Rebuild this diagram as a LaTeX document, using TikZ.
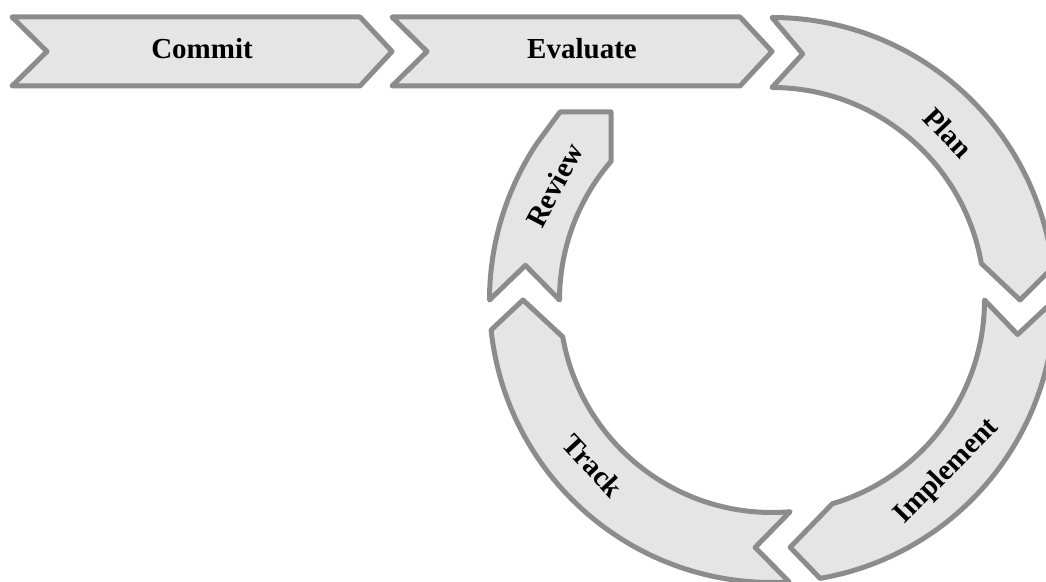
\documentclass[tikz,border=0pt]{standalone}
\usepackage{fontspec}
\setmainfont{Liberation Serif}
\definecolor{bandfill}{gray}{0.9}
\definecolor{bandline}{gray}{0.55}
\begin{document}
\begin{tikzpicture}[x=1pt,y=1pt,
	band/.style={draw=bandline, fill=bandfill, line width=5pt, line join=round},
	lbl/.style={font=\fontsize{29}{34}\selectfont\bfseries}]
	\useasboundingbox (0,0) rectangle (1046,581);

	% straight chevrons
	\draw[band] (12,564) -- (360,564) -- (392,529.5) -- (360,495) -- (12,495) -- (47,529.5) -- cycle;
	\draw[band] (392,564) -- (740,564) -- (772,529.5) -- (740,495) -- (392,495) -- (427,529.5) -- cycle;
	\node[lbl] (commit) at (202,532) {Commit};
	\node[lbl] (evaluate) at (582,532) {Evaluate};

	% the cycle, inner radius 212.5, outer 282.5
	\begin{scope}[shift={(772,281)}]
		\draw[band] (90:282.5) arc[start angle=90, end angle=6.6, radius=282.5] -- (0:248)
			-- (9.9:212.5) arc[start angle=9.9, end angle=90, radius=212.5] -- (82.9:248) -- cycle;
		\draw[band] (0:282.5) arc[start angle=0, end angle=-80.2, radius=282.5] -- (-85.8:248)
			-- (-73.5:212.5) arc[start angle=-73.5, end angle=0, radius=212.5] -- (-8:248) -- cycle;
		\draw[band] (-86.5:282.5) arc[start angle=-86.5, end angle=-173.9, radius=282.5] -- (180:249)
			-- (-170:212.5) arc[start angle=-170, end angle=-85.1, radius=212.5] -- (-93.9:248) -- cycle;
		\draw[band] (180:282.5) arc[start angle=180, end angle=146.3, radius=282.5] -- (-212,188) -- (-161,188)
			-- (139.2:212.5) arc[start angle=139.2, end angle=180, radius=212.5] -- (172:249) -- cycle;

		\node[lbl, rotate=-46.5] (plan) at (43.5:243) {Plan};
		\node[lbl, rotate=45.5] (implement) at (-44.5:245) {Implement};
		\node[lbl, rotate=-47.2] (track) at (-137.2:244) {Track};
		\node[lbl, rotate=62.2] (review) at (152.2:246) {Review};
	\end{scope}
\end{tikzpicture}
\end{document}
